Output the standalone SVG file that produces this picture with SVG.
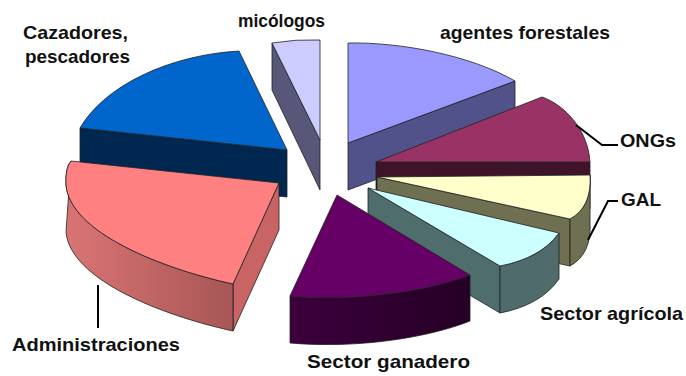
<svg xmlns="http://www.w3.org/2000/svg" width="686" height="376" viewBox="0 0 686 376">
<style>
.e{stroke:#222;stroke-width:0.8;stroke-linejoin:round}
.t{font-family:"Liberation Sans",Arial,sans-serif;font-weight:bold;font-size:19px;fill:#111}
.ld{fill:none;stroke:#000;stroke-width:2}
</style>
<defs>
<linearGradient id="gAdm" x1="0" y1="0" x2="1" y2="0">
<stop offset="0" stop-color="#DA7474"/>
<stop offset="1" stop-color="#A85656"/>
</linearGradient>
<linearGradient id="gGan" x1="0" y1="0" x2="1" y2="0">
<stop offset="0" stop-color="#3C003C"/>
<stop offset="1" stop-color="#250025"/>
</linearGradient>
</defs>
<rect width="686" height="376" fill="#fff"/>

<g id="micologos">
<path class="e" fill="#57577A" d="M272,43 L320,140 L320,190 L272,90 Z"/>
<path class="e" fill="#CCCCFF" d="M272,43 Q296,39 320,40 L320,140 Z"/>
</g>

<g id="agentes-forestales">
<path class="e" fill="#52528A" d="M348,143 L515,81 L515,128 L348,190 Z"/>
<path class="e" fill="#9999FF" d="M348,43 C400,42 470,55 515,81 L348,143 Z"/>
</g>

<g id="cazadores">
<path class="e" fill="#00274F" d="M80,128 L287,150 L287,197 L80,175 Z"/>
<path class="e" fill="#0066CC" d="M80,128 C105,85 170,55 239,51 L287,150 Z"/>
</g>

<g id="ongs">
<path class="e" fill="#3F1329" d="M376,162 L590,162 L590,209 L376,209 Z"/>
<path class="e" fill="#993366" d="M376,162 L542,97 C565,105 588,130 590,162 Z"/>
</g>

<g id="gal">
<path class="e" fill="#6F6F52" d="M377,177 L570,219 L570,266 L377,224 Z"/>
<path class="e" fill="#6F6F52" d="M570,219 Q592,207 590,175 L590,222 Q592,254 570,266 Z"/>
<path class="e" fill="#FFFFCC" d="M377,177 L590,175 Q592,207 570,219 Z"/>
</g>

<g id="sector-agricola">
<path class="e" fill="#4F6D6D" d="M368,188 L500,266 L500,313 L368,235 Z"/>
<path class="e" fill="#4F6B6B" d="M500,266 Q541,258 559,233 L559,279 Q541,305 500,313 Z"/>
<path class="e" fill="#CCFFFF" d="M368,188 L559,233 Q541,258 500,266 Z"/>
</g>

<g id="administraciones">
<path class="e" fill="#C96464" d="M279,183 L279,230 L233,331 L233,284 Z"/>
<path class="e" fill="url(#gAdm)" d="M71,161 Q65,168 66,185 C70,232 160,268 233,284 L233,331 C160,315 70,279 66,232 Z"/>
<path class="e" fill="#FF8080" d="M71,161 L279,183 L233,284 C160,268 70,232 66,185 Q65,168 71,161 Z"/>
</g>

<g id="sector-ganadero">
<path class="e" fill="url(#gGan)" d="M290,296 C360,302 430,290 470,275 L470,321 C430,337 360,349 290,343 Z"/>
<path class="e" fill="#660066" d="M337,195 L470,275 C430,290 360,302 290,296 Z"/>
</g>

<g id="connectors">
<polyline class="ld" points="576,125 602,145 618,145"/>
<polyline class="ld" points="588,240 608,201 618,201"/>
<line class="ld" x1="98" y1="285" x2="98" y2="328"/>
</g>

<g id="labels">
<text class="t" x="238" y="27" textLength="87" lengthAdjust="spacingAndGlyphs">micólogos</text>
<text class="t" x="23" y="39" textLength="105" lengthAdjust="spacingAndGlyphs">Cazadores,</text>
<text class="t" x="25" y="63" textLength="105" lengthAdjust="spacingAndGlyphs">pescadores</text>
<text class="t" x="440" y="39" textLength="170" lengthAdjust="spacingAndGlyphs">agentes forestales</text>
<text class="t" x="620" y="147" textLength="56" lengthAdjust="spacingAndGlyphs">ONGs</text>
<text class="t" x="621" y="206" textLength="40" lengthAdjust="spacingAndGlyphs">GAL</text>
<text class="t" x="540" y="320" textLength="143" lengthAdjust="spacingAndGlyphs">Sector agrícola</text>
<text class="t" x="307" y="368" textLength="163" lengthAdjust="spacingAndGlyphs">Sector ganadero</text>
<text class="t" x="12" y="351" textLength="168" lengthAdjust="spacingAndGlyphs">Administraciones</text>
</g>
</svg>
